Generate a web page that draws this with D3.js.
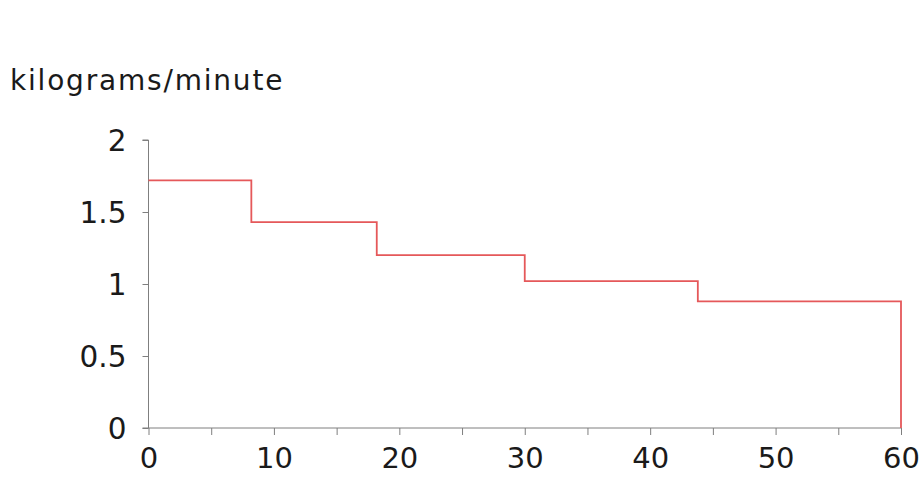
<!DOCTYPE html>
<html><head><meta charset="utf-8">
<script src="https://cdn.jsdelivr.net/npm/d3@7"></script>
<style>body{margin:0;background:#fff}svg{display:block}</style>
</head><body>
<svg id="c" width="921" height="478"></svg>
<script>
const breakpoints = [0, 8.2, 18.2, 30, 43.8, 60];
const rates = [1.72, 1.43, 1.2, 1.02, 0.88];
const xTicks = [0, 5, 10, 15, 20, 25, 30, 35, 40, 45, 50, 55, 60];
const xLabels = [0, 10, 20, 30, 40, 50, 60];
const yTicks = [0, 0.5, 1, 1.5, 2];
const yTitle = "kilograms/minute";

const svg = d3.select("#c");
const x = d3.scaleLinear().domain([0, 60]).range([148.5, 901]);
const y = d3.scaleLinear().domain([0, 2]).range([428, 140]);
const font = "'DejaVu Sans', Verdana, sans-serif";
const axisColor = "#7f7f7f";

// y axis
const ya = svg.append("g").attr("transform", `translate(${x(0)},0)`)
  .call(d3.axisLeft(y).tickValues(yTicks).tickSize(6).tickPadding(16)
    .tickFormat(d => d3.format("")(d)));
ya.select(".domain").attr("stroke", axisColor).attr("d", `M-6,${y(2)}H0V${y(0)}`);
ya.selectAll(".tick line").attr("stroke", axisColor);
ya.selectAll(".tick text").attr("font-family", font).attr("font-size", 29.5).attr("fill", "#1a1a1a").attr("dy", "0.36em");

// x axis
const xa = svg.append("g").attr("transform", `translate(0,${y(0)})`)
  .call(d3.axisBottom(x).tickValues(xTicks).tickSize(7).tickPadding(12)
    .tickFormat(d => xLabels.includes(d) ? d : ""));
xa.select(".domain").attr("stroke", axisColor).attr("d", `M${x(0)-6},0H${x(60)}`);
xa.selectAll(".tick line").attr("stroke", axisColor);
xa.selectAll(".tick text").attr("font-family", font).attr("font-size", 29).attr("fill", "#1a1a1a");

// title
svg.append("text").attr("x", 10).attr("y", 90).attr("font-family", font)
  .attr("font-size", 28).attr("fill", "#1a1a1a").attr("letter-spacing", 1.8).text(yTitle);

// step line
const pts = rates.map((r, i) => [breakpoints[i], r]);
pts.push([breakpoints[breakpoints.length - 1], rates[rates.length - 1]]);
pts.push([breakpoints[breakpoints.length - 1], 0]);
svg.append("path").datum(pts)
  .attr("fill", "none").attr("stroke", "#e5585a").attr("stroke-width", 1.8)
  .attr("d", d3.line().x(d => x(d[0])).y(d => y(d[1])).curve(d3.curveStepAfter));
</script>
</body></html>
